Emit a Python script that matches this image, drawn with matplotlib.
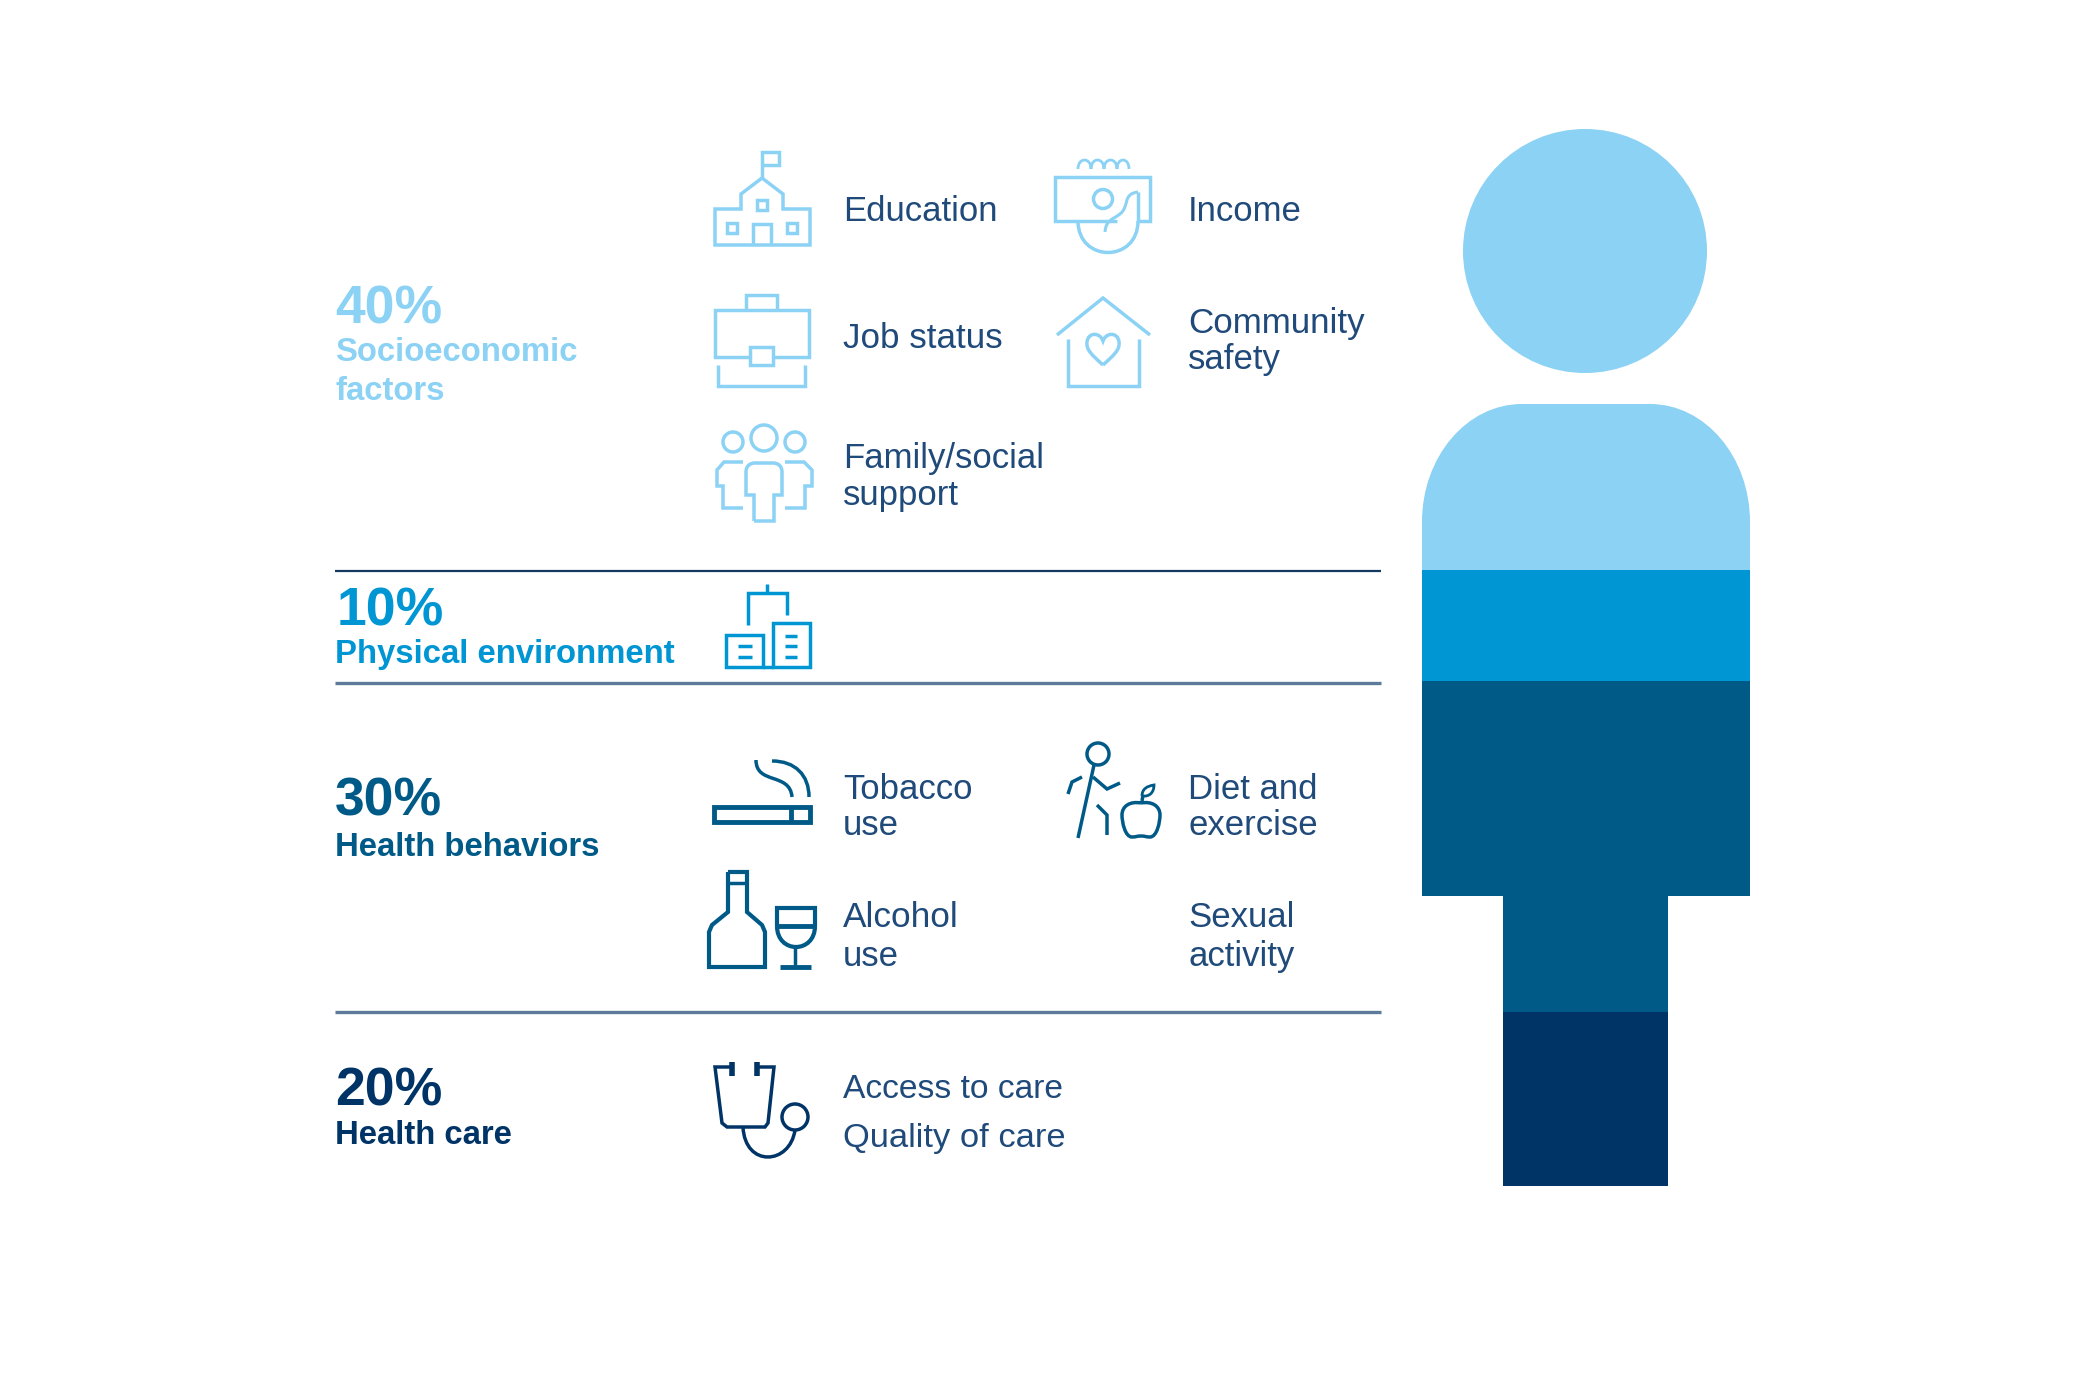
import matplotlib
matplotlib.use("Agg")
import matplotlib.pyplot as plt
from matplotlib.path import Path
from matplotlib.patches import PathPatch, Circle, Rectangle

# ---- data ----
shares = [40, 10, 30, 20]
share_labels = ["40%", "10%", "30%", "20%"]
categories = [["Socioeconomic", "factors"], ["Physical environment"], ["Health behaviors"], ["Health care"]]
colors = ["#8BD2F5", "#0095D3", "#005A87", "#003466"]
TEXT = "#1F4A7A"

W, H = 2084, 1396
fig = plt.figure(figsize=(W / 100, H / 100), dpi=100, facecolor="white")
ax = fig.add_axes([0, 0, 1, 1])
ax.set_xlim(0, W)
ax.set_ylim(H, 0)
ax.axis("off")
plt.rcParams["font.family"] = ["Liberation Sans", "DejaVu Sans"]


# ---- person silhouette with stacked bands ----
def silhouette():
    k = 0.5523
    cx, cy, r = 1585, 251, 122
    v = [(cx + r, cy), (cx + r, cy + k * r), (cx + k * r, cy + r), (cx, cy + r),
         (cx - k * r, cy + r), (cx - r, cy + k * r), (cx - r, cy),
         (cx - r, cy - k * r), (cx - k * r, cy - r), (cx, cy - r),
         (cx + k * r, cy - r), (cx + r, cy - k * r), (cx + r, cy), (cx + r, cy)]
    c = [Path.MOVETO] + [Path.CURVE4] * 12 + [Path.CLOSEPOLY]
    L, R, l, rr, top, step, bot = 1422, 1750, 1503, 1668, 404, 896, 1186
    rx, ry = 100, 118
    b = [(L, step), (L, top + ry), (L, top + ry - k * ry), (L + rx - k * rx, top), (L + rx, top),
         (R - rx, top), (R - rx + k * rx, top), (R, top + ry - k * ry), (R, top + ry),
         (R, step), (rr, step), (rr, bot), (l, bot), (l, step), (L, step)]
    bc = [Path.MOVETO, Path.LINETO, Path.CURVE4, Path.CURVE4, Path.CURVE4, Path.LINETO,
          Path.CURVE4, Path.CURVE4, Path.CURVE4, Path.LINETO, Path.LINETO, Path.LINETO,
          Path.LINETO, Path.LINETO, Path.CLOSEPOLY]
    return Path(v + b, c + bc)


# 0 % sits just above the head, 100 % just below the feet; the silhouette clips the rest
ax_b = fig.add_axes([1400 / W, 1 - 1233 / H, 370 / W, 1105 / H])
ax_b.set_xlim(0, 1)
ax_b.set_ylim(100, 0)
ax_b.axis("off")
ax_b.patch.set_alpha(0)
sil = silhouette()
cum = 0
for s, col in zip(shares, colors):
    bars = ax_b.bar(0.5, s, bottom=cum, width=1, color=col, linewidth=0)
    for b in bars:
        b.set_clip_path(sil, ax.transData)
    cum += s

# ---- separators ----
ax.plot([335, 1381], [571, 571], color="#12395F", lw=1.6, solid_capstyle="butt")
ax.plot([335, 1381], [683, 683], color="#5D7A9A", lw=2.4, solid_capstyle="butt")
ax.plot([335, 1381], [1012, 1012], color="#5D7A9A", lw=2.4, solid_capstyle="butt")

# ---- left headings ----
pct_pos = [(335, 323), (337, 625), (335, 816), (335, 1106)]
lab_pos = [[(335, 361), (335, 400)], [(335, 663)], [(335, 856)], [(335, 1144)]]
for t, p, col, ls, lp in zip(share_labels, pct_pos, colors, categories, lab_pos):
    ax.text(p[0], p[1], t, color=col, fontsize=38.5, fontweight="bold", va="baseline", ha="left")
    for tt, q in zip(ls, lp):
        ax.text(q[0], q[1], tt, color=col, fontsize=23.7, fontweight="bold", va="baseline", ha="left")

# ---- factor labels ----
factors = [
    ("Education", 843, 221, 25), ("Income", 1188, 221, 25),
    ("Job status", 843, 348, 25.2), ("Community", 1188, 333, 25.2), ("safety", 1188, 369, 25),
    ("Family/social", 843, 468, 25), ("support", 843, 505, 25),
    ("Tobacco", 843, 799, 25), ("use", 843, 835, 25), ("Diet and", 1188, 799, 25), ("exercise", 1188, 835, 25),
    ("Alcohol", 843, 927, 25.4), ("use", 843, 966, 25), ("Sexual", 1188, 927, 25), ("activity", 1188, 966, 25),
    ("Access to care", 843, 1098, 24.2), ("Quality of care", 843, 1147, 24.8),
]
for t, x, y, fs in factors:
    ax.text(x, y, t, color=TEXT, fontsize=fs, va="baseline", ha="left")


# ---- icons ----
def pl(col, pts, lw=2.5, closed=False):
    xs, ys = zip(*(list(pts) + ([pts[0]] if closed else [])))
    ax.plot(xs, ys, color=col, lw=lw, solid_joinstyle="miter", solid_capstyle="butt")


def curve(col, verts, lw=2.5):
    codes = [Path.MOVETO] + [Path.CURVE4] * (len(verts) - 1)
    ax.add_patch(PathPatch(Path(verts, codes), fc="none", ec=col, lw=lw, capstyle="butt"))


def circ(col, x, y, r, lw=2.5):
    ax.add_patch(Circle((x, y), r, fc="none", ec=col, lw=lw))


def rect(col, x0, y0, x1, y1, lw=2.5):
    ax.add_patch(Rectangle((x0, y0), x1 - x0, y1 - y0, fc="none", ec=col, lw=lw, joinstyle="miter"))


c = colors[0]
# school
pl(c, [(762, 178), (741, 194), (741, 209), (715, 209), (715, 245), (810, 245), (810, 209), (783, 209), (783, 194)], closed=True)
pl(c, [(753, 245), (753, 224), (771, 224), (771, 245)])
for x, y in [(762, 205), (732, 228), (792, 228)]:
    rect(c, x - 5, y - 5, x + 5, y + 5)
pl(c, [(762, 178), (762, 152), (779, 152), (779, 165), (762, 165)])
# income
pl(c, [(1137, 221), (1150, 221), (1150, 177), (1055, 177), (1055, 221), (1117, 221)])
circ(c, 1103, 199, 9.5)
curve(c, [(1078, 169), (1078, 157), (1091, 157), (1091, 169), (1091, 157), (1104, 157), (1104, 169),
          (1104, 157), (1117, 157), (1117, 169), (1117, 157), (1129, 157), (1129, 169)], lw=2.0)
curve(c, [(1078, 221), (1078, 263), (1138, 263), (1138, 221)])
pl(c, [(1138, 221), (1138, 192)])
curve(c, [(1138, 192), (1122, 194), (1130, 206), (1120, 214), (1112, 220), (1106, 220), (1105, 232)], lw=2.2)
# briefcase
pl(c, [(746, 310), (746, 295), (777, 295), (777, 310)])
pl(c, [(750, 357), (715, 357), (715, 310), (809, 310), (809, 357), (773, 357)])
rect(c, 750, 347, 773, 365)
pl(c, [(718, 365), (718, 386), (805, 386), (805, 365)])
# house
pl(c, [(1057, 335), (1103, 298), (1150, 335)])
pl(c, [(1068, 339), (1068, 386), (1139, 386), (1139, 339)])
curve(c, [(1103, 365), (1092, 355), (1086, 350), (1087, 342), (1088, 332), (1100, 332), (1103, 341),
          (1106, 332), (1118, 332), (1119, 342), (1120, 350), (1114, 355), (1103, 365)])
# family
circ(c, 733, 442, 10); circ(c, 764, 438, 13); circ(c, 795, 442, 10)
curve(c, [(754, 521), (754, 512), (754, 504), (754, 495), (751, 495), (749, 495), (746, 495), (746, 487), (746, 480), (746, 472),
          (746, 466), (750, 463), (755, 463), (761, 463), (767, 463), (773, 463), (778, 463), (782, 466), (782, 472),
          (782, 480), (782, 487), (782, 495), (779, 495), (777, 495), (774, 495), (774, 504), (774, 512), (774, 521),
          (767, 521), (761, 521), (754, 521)])
pl(c, [(743, 462), (724, 462), (717, 470), (717, 486), (723, 486), (723, 508), (743, 508)])
pl(c, [(785, 462), (804, 462), (812, 470), (812, 486), (805, 486), (805, 508), (785, 508)])

c = colors[1]
pl(c, [(767, 584), (767, 593)])
pl(c, [(748, 625), (748, 593), (787, 593), (787, 615)])
rect(c, 726, 635, 763, 667)
rect(c, 773, 623, 810, 667)
pl(c, [(763, 667), (773, 667)])
for y in (646, 657):
    pl(c, [(738, y), (752, y)])
for y in (636, 646, 657):
    pl(c, [(785, y), (797, y)])

c = colors[2]
# cigarette
rect(c, 714, 807, 810, 822, lw=3.5)
pl(c, [(791, 807), (791, 822)], lw=3.5)
curve(c, [(756, 760), (756, 785), (790, 772), (792, 797)])
curve(c, [(772, 761), (795, 761), (809, 775), (809, 797)])
# walker & apple
circ(c, 1098, 754, 11)
pl(c, [(1094, 765), (1078, 838)])
pl(c, [(1093, 777), (1107, 789), (1120, 783)])
pl(c, [(1082, 777), (1072, 782), (1068, 794)])
pl(c, [(1097, 805), (1107, 815), (1107, 835)])
curve(c, [(1141, 803), (1130, 801), (1122, 806), (1122, 815), (1122, 822), (1125, 837), (1132, 837),
          (1136, 837), (1137, 836), (1141, 836), (1145, 836), (1146, 837), (1150, 837),
          (1157, 837), (1160, 822), (1160, 815), (1160, 806), (1152, 801), (1141, 803)])
pl(c, [(1142, 801), (1143, 795)])
curve(c, [(1142, 796), (1142, 789), (1147, 786), (1154, 785), (1154, 792), (1150, 797), (1142, 796)], lw=2.0)
# bottle & glass
pl(c, [(728, 872), (728, 912), (712, 925), (709, 932), (709, 967), (765, 967), (765, 932), (762, 925), (747, 912), (747, 872)], closed=True, lw=3)
pl(c, [(728, 883), (747, 883)])
curve(c, [(777, 926), (777, 954), (815, 954), (815, 926)], lw=3)
pl(c, [(815, 926), (815, 908), (777, 908), (777, 926)], lw=3)
pl(c, [(777, 926), (815, 926)], lw=3.5)
pl(c, [(795, 947), (795, 967)])
pl(c, [(780, 967), (811, 967)], lw=3.5)

c = colors[3]
pl(c, [(732, 1067), (715, 1067), (722, 1123), (727, 1127), (765, 1127), (768, 1123), (774, 1067), (755, 1067)])
pl(c, [(732, 1062), (732, 1076)], lw=4)
pl(c, [(757, 1062), (757, 1076)], lw=4)
curve(c, [(743, 1127), (745, 1168), (790, 1165), (795, 1130)])
circ(c, 795, 1117, 13)

fig.savefig("out.png", dpi=100, facecolor="white")
